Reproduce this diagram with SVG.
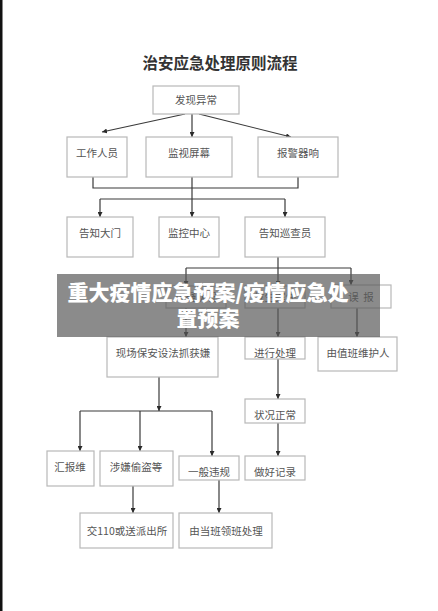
<svg xmlns="http://www.w3.org/2000/svg" width="438" height="611" viewBox="0 0 438 611">
<style>
.bx{fill:#fff;stroke:#b8b8b8;stroke-width:1.2}
.t{font-family:"Noto Sans CJK SC","Liberation Serif",serif;font-size:10.5px;fill:#555;text-anchor:middle}
.c{fill:none;stroke:#3a3a3a;stroke-width:1.2}
.ttl{font-family:"Noto Sans CJK SC",sans-serif;font-size:15.5px;fill:#333;text-anchor:middle;font-weight:bold}
.ov{font-family:"Noto Sans CJK SC",sans-serif;font-size:21px;fill:#fff;text-anchor:middle;font-weight:900}
</style>
<defs>
<marker id="ah" viewBox="0 0 10 10" refX="10" refY="5" markerWidth="5" markerHeight="5" orient="auto" markerUnits="userSpaceOnUse">
<path d="M0,0 L10,5 L0,10 z" fill="#2a2a2a"/>
</marker>
</defs>
<rect width="438" height="611" fill="#fff"/>
<rect x="0" y="0" width="2.5" height="611" fill="#111"/>
<text class="ttl" x="220" y="69">治安应急处理原则流程</text>
<g id="connectors">
<line class="c" x1="185" y1="114" x2="102" y2="132" marker-end="url(#ah)"/>
<line class="c" x1="192" y1="114" x2="192" y2="137" marker-end="url(#ah)"/>
<line class="c" x1="199" y1="114" x2="291" y2="137" marker-end="url(#ah)"/>
<polyline class="c" points="93,177 93,188 298,188 298,177"/>
<line class="c" x1="192" y1="177" x2="192" y2="217" marker-end="url(#ah)"/>
<line class="c" x1="100" y1="199" x2="285" y2="199"/>
<line class="c" x1="100" y1="199" x2="100" y2="217" marker-end="url(#ah)"/>
<line class="c" x1="285" y1="199" x2="285" y2="217" marker-end="url(#ah)"/>
<line class="c" x1="278" y1="257" x2="278" y2="286" marker-end="url(#ah)"/>
<line class="c" x1="186" y1="268" x2="351" y2="268"/>
<line class="c" x1="186" y1="268" x2="186" y2="286" marker-end="url(#ah)"/>
<line class="c" x1="351" y1="268" x2="351" y2="285" marker-end="url(#ah)"/>
<line class="c" x1="278" y1="286" x2="278" y2="337" marker-end="url(#ah)"/>
<line class="c" x1="186" y1="308" x2="186" y2="337" marker-end="url(#ah)"/>
<line class="c" x1="357" y1="308" x2="357" y2="337" marker-end="url(#ah)"/>
<line class="c" x1="159" y1="377" x2="159" y2="411" marker-end="url(#ah)"/>
<line class="c" x1="80" y1="411" x2="212" y2="411"/>
<line class="c" x1="80" y1="411" x2="80" y2="451" marker-end="url(#ah)"/>
<line class="c" x1="140" y1="411" x2="140" y2="451" marker-end="url(#ah)"/>
<line class="c" x1="212" y1="411" x2="212" y2="456" marker-end="url(#ah)"/>
<line class="c" x1="278" y1="359" x2="278" y2="399" marker-end="url(#ah)"/>
<line class="c" x1="278" y1="423" x2="278" y2="456" marker-end="url(#ah)"/>
<line class="c" x1="133" y1="486" x2="133" y2="513" marker-end="url(#ah)"/>
<line class="c" x1="219" y1="480" x2="219" y2="513" marker-end="url(#ah)"/>
</g>
<g id="n1"><rect class="bx" x="153" y="86" width="86" height="28"/><text class="t" x="196" y="104">发现异常</text></g>
<g id="n2"><rect class="bx" x="67" y="137" width="60" height="40"/><text class="t" x="97" y="157">工作人员</text></g>
<g id="n3"><rect class="bx" x="146" y="137" width="86" height="40"/><text class="t" x="189" y="157">监视屏幕</text></g>
<g id="n4"><rect class="bx" x="258" y="137" width="80" height="40"/><text class="t" x="298" y="157">报警器响</text></g>
<g id="n5"><rect class="bx" x="67" y="217" width="66" height="40"/><text class="t" x="100" y="237">告知大门</text></g>
<g id="n6"><rect class="bx" x="159" y="217" width="60" height="40"/><text class="t" x="189" y="237">监控中心</text></g>
<g id="n7"><rect class="bx" x="245" y="217" width="80" height="40"/><text class="t" x="285" y="237">告知巡查员</text></g>
<g id="n8"><rect class="bx" x="166" y="286" width="60" height="22"/><text class="t" x="196" y="301">可疑状况</text></g>
<g id="n9"><rect class="bx" x="245" y="286" width="60" height="22"/><text class="t" x="275" y="301">发生案件</text></g>
<g id="n10"><rect class="bx" x="331" y="285" width="60" height="23"/><text class="t" x="361" y="301" xml:space="preserve">误  报</text></g>
<g id="n11"><rect class="bx" x="107" y="337" width="111" height="40"/><text class="t" x="163" y="357">现场保安设法抓获嫌</text></g>
<g id="n12"><rect class="bx" x="245" y="337" width="60" height="22"/><text class="t" x="275" y="357">进行处理</text></g>
<g id="n13"><rect class="bx" x="318" y="337" width="79" height="34"/><text class="t" x="358" y="357">由值班维护人</text></g>
<g id="n14"><rect class="bx" x="245" y="399" width="60" height="24"/><text class="t" x="275" y="419">状况正常</text></g>
<g id="n15"><rect class="bx" x="245" y="456" width="60" height="24"/><text class="t" x="275" y="476">做好记录</text></g>
<g id="n16"><rect class="bx" x="47" y="451" width="47" height="35"/><text class="t" x="70" y="471">汇报维</text></g>
<g id="n17"><rect class="bx" x="100" y="451" width="73" height="35"/><text class="t" x="136" y="471">涉嫌偷盗等</text></g>
<g id="n18"><rect class="bx" x="179" y="456" width="60" height="24"/><text class="t" x="209" y="476">一般违规</text></g>
<g id="n19"><rect class="bx" x="80" y="513" width="93" height="35"/><text class="t" x="127" y="535">交110或送派出所</text></g>
<g id="n20"><rect class="bx" x="179" y="513" width="93" height="35"/><text class="t" x="226" y="535">由当班领班处理</text></g>
<g id="overlay">
<rect x="57" y="274" width="323" height="63" fill="#5a5a5a" fill-opacity="0.7"/>
<text class="ov" x="208" y="300">重大疫情应急预案/疫情应急处</text>
<text class="ov" x="208" y="326">置预案</text>
</g>
</svg>
